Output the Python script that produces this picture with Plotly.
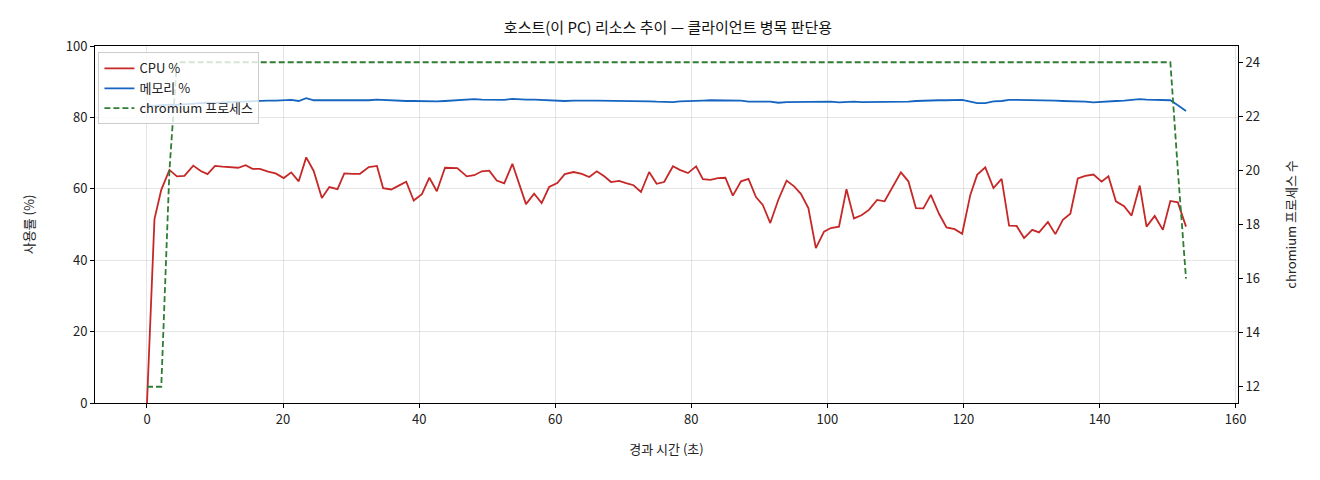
import plotly.graph_objects as go

# 경과 시간 (초)
elapsed = [
    0, 1.1, 2.1, 3.3, 4.4, 5.5, 6.8, 7.9, 8.9, 10.0,
    11.1, 12.2, 13.4, 14.5, 15.5, 16.6, 17.8, 18.9, 20.1, 21.2,
    22.3, 23.4, 24.5, 25.7, 26.8, 28.0, 29.0, 30.2, 31.3, 32.6,
    33.8, 34.7, 35.9, 37.0, 38.1, 39.2, 40.4, 41.5, 42.6, 43.8,
    44.7, 45.6, 47.0, 48.1, 49.2, 50.3, 51.4, 52.5, 53.7, 54.7,
    55.7, 56.9, 58.0, 59.1, 60.3, 61.4, 62.7, 63.9, 65.0, 66.1,
    67.2, 68.2, 69.4, 70.4, 71.5, 72.6, 73.8, 74.9, 76.0, 77.3,
    78.3, 79.5, 80.7, 81.7, 82.8, 83.9, 85.0, 86.1, 87.3, 88.4,
    89.5, 90.5, 91.6, 92.8, 94.0, 95.1, 96.1, 97.2, 98.3, 99.5,
    100.5, 101.7, 102.8, 103.9, 105.0, 106.1, 107.3, 108.4, 109.6, 110.8,
    111.9, 113.0, 114.1, 115.2, 116.4, 117.5, 118.7, 119.8, 121.0, 122.0,
    123.2, 124.4, 125.6, 126.7, 127.8, 128.9, 130.1, 131.1, 132.4, 133.5,
    134.6, 135.7, 136.8, 137.9, 139.1, 140.3, 141.3, 142.4, 143.6, 144.7,
    145.9, 146.9, 148.1, 149.3, 150.4, 151.5, 152.7,
]

cpu = [
    0, 51.5, 59.7, 65.3, 63.5, 63.6, 66.5, 65.0, 64.1, 66.4,
    66.2, 66.1, 65.9, 66.6, 65.6, 65.6, 64.8, 64.3, 63.0, 64.6,
    62.1, 68.8, 65.0, 57.4, 60.5, 59.9, 64.3, 64.2, 64.2, 66.1,
    66.4, 60.2, 59.8, 60.9, 62.0, 56.7, 58.5, 63.1, 59.3, 65.9,
    65.9, 65.8, 63.5, 63.8, 64.9, 65.1, 62.3, 61.5, 67.0, 61.1,
    55.7, 58.6, 56.0, 60.5, 61.6, 64.1, 64.7, 64.2, 63.3, 64.9,
    63.5, 61.9, 62.2, 61.6, 61.0, 59.1, 64.7, 61.4, 61.9, 66.3,
    65.3, 64.4, 66.3, 62.7, 62.5, 63.0, 63.1, 58.1, 62.1, 62.8,
    57.7, 55.5, 50.4, 57.0, 62.3, 60.7, 58.6, 54.6, 43.4, 48.0,
    49.0, 49.4, 59.9, 51.7, 52.6, 54.1, 56.9, 56.5, 60.7, 64.6,
    62.1, 54.6, 54.5, 58.3, 53.0, 49.2, 48.7, 47.4, 58.3, 63.9,
    66.0, 60.2, 62.8, 49.7, 49.6, 46.2, 48.5, 47.8, 50.7, 47.3,
    51.3, 53.0, 62.9, 63.6, 64.0, 62.0, 63.5, 56.5, 55.1, 52.5,
    60.9, 49.4, 52.4, 48.5, 56.6, 56.2, 49.4,
]

memory = [
    83.3, 83.2, 83.4, 83.6, 83.5, 83.7, 83.8, 84.0, 84.1, 84.0,
    84.2, 84.3, 84.3, 84.5, 84.4, 84.6, 84.7, 84.7, 84.8, 84.9,
    84.6, 85.4, 84.8, 84.8, 84.8, 84.7, 84.7, 84.7, 84.8, 84.8,
    85.0, 84.9, 84.7, 84.6, 84.6, 84.6, 84.5, 84.5, 84.5, 84.6,
    84.7, 84.8, 84.8, 85.1, 85.0, 85.0, 84.9, 84.9, 85.2, 85.0,
    85.0, 85.0, 84.9, 84.9, 84.6, 84.6, 84.7, 84.6, 84.7, 84.7,
    84.7, 84.6, 84.6, 84.6, 84.6, 84.5, 84.5, 84.4, 84.3, 84.3,
    84.5, 84.5, 84.6, 84.7, 84.8, 84.8, 84.8, 84.7, 84.7, 84.4,
    84.5, 84.4, 84.4, 84.1, 84.3, 84.3, 84.3, 84.4, 84.5, 84.5,
    84.4, 84.2, 84.4, 84.4, 84.3, 84.3, 84.3, 84.3, 84.5, 84.5,
    84.4, 84.6, 84.7, 84.7, 84.8, 84.8, 84.9, 84.9, 84.4, 84.0,
    84.0, 84.5, 84.6, 84.9, 84.9, 84.9, 84.8, 84.8, 84.8, 84.7,
    84.6, 84.6, 84.5, 84.4, 84.2, 84.4, 84.6, 84.6, 84.7, 84.9,
    85.1, 85.0, 84.9, 84.8, 84.8, 83.4, 81.8,
]

chromium = [12, 12, 12, 20] + [24] * 131 + [20, 16]

FONT = "Noto Sans CJK KR, Noto Sans, DejaVu Sans"

fig = go.Figure()
fig.add_trace(go.Scatter(x=elapsed, y=cpu, mode="lines", name="CPU %",
                         line=dict(color="#c62828", width=1.8)))
fig.add_trace(go.Scatter(x=elapsed, y=memory, mode="lines", name="메모리 %",
                         line=dict(color="#1565c0", width=1.8)))
fig.add_trace(go.Scatter(x=elapsed, y=chromium, mode="lines", name="chromium 프로세스",
                         yaxis="y2", line=dict(color="#2e7d32", width=1.8, dash="6px,3px")))

fig.update_layout(
    width=1320, height=480,
    margin=dict(l=87, r=90, t=38, b=85),
    paper_bgcolor="white", plot_bgcolor="white",
    font=dict(family=FONT, size=13, color="#222"),
    title=dict(text="호스트(이 PC) 리소스 추이 — 클라이언트 병목 판단용",
               x=0.5, xanchor="center", y=0.958, yanchor="middle",
               font=dict(size=15, color="#111")),
    xaxis=dict(range=[-7.64, 160.34], tickvals=[0, 20, 40, 60, 80, 100, 120, 140, 160],
               showgrid=True, gridcolor="rgba(0,0,0,0.1)", zeroline=False,
               showline=True, linecolor="black", linewidth=1, mirror=True,
               ticks="outside", ticklen=4, tickcolor="black",
               title=dict(text="경과 시간 (초)", font=dict(size=13), standoff=18)),
    yaxis=dict(range=[0, 100], tickvals=[0, 20, 40, 60, 80, 100],
               showgrid=True, gridcolor="rgba(0,0,0,0.1)", zeroline=False,
               showline=True, linecolor="black", linewidth=1,
               ticks="outside", ticklen=4, tickcolor="black",
               title=dict(text="사용률 (%)", font=dict(size=13), standoff=28)),
    yaxis2=dict(overlaying="y", side="right", range=[11.4, 24.6],
                tickvals=[12, 14, 16, 18, 20, 22, 24], showgrid=False, zeroline=False,
                showline=True, linecolor="black", linewidth=1,
                ticks="outside", ticklen=4, tickcolor="black",
                title=dict(text="chromium 프로세스 수", font=dict(size=13), standoff=27)),
    legend=dict(x=0.003, y=0.982, xanchor="left", yanchor="top",
                bgcolor="rgba(255,255,255,0.8)", bordercolor="#cccccc", borderwidth=1,
                font=dict(size=13), itemwidth=30, tracegroupgap=0),
    showlegend=True,
)

fig.write_html("out.html")
